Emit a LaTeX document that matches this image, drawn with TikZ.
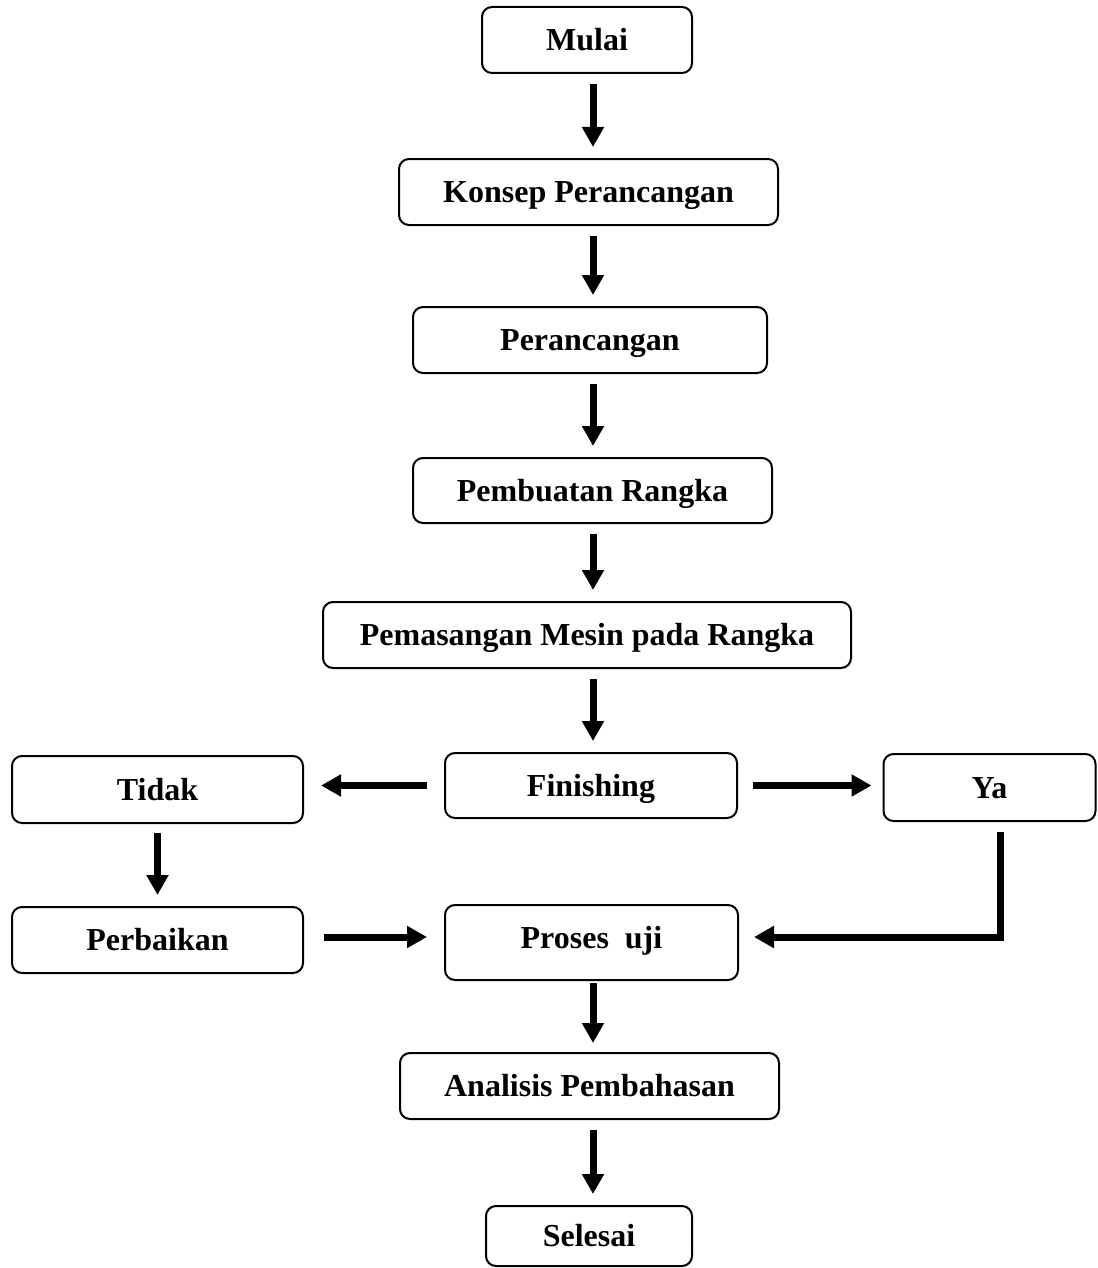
\documentclass[tikz,border=0pt]{standalone}
\usepackage{fontspec}
\setmainfont{Liberation Serif}
\usetikzlibrary{arrows.meta,calc}
\definecolor{garis}{RGB}{0,0,0}

\tikzset{
  kotak/.style={draw=garis, line width=1pt, rounded corners=5pt, inner sep=0pt,
    minimum height=33pt, text height=11pt, text depth=0.5pt,
    font=\fontsize{16}{19}\selectfont\bfseries},
  panah/.style={draw=garis, line width=3.5pt, -{Triangle[width=10.5pt,length=10pt]},
    shorten <=5pt, shorten >=5.5pt}
}

\begin{document}
\begin{tikzpicture}[x=0.5pt, y=-0.5pt]

    \useasboundingbox (0,0) rectangle (1097,1268);

    % 1. Kotak alur utama (tengah)
    \node (mulai) at (587, 40) [kotak, minimum width=105pt] {Mulai};
    \node (konsep) at (588.5, 192) [kotak, minimum width=189.5pt] {Konsep Perancangan};
    \node (rancang) at (590, 340) [kotak, minimum width=177pt] {Perancangan};
    \node (rangka) at (592.5, 490.5) [kotak, minimum width=179.5pt, minimum height=32.5pt] {Pembuatan Rangka};
    \node (pasang) at (587, 635) [kotak, minimum width=264pt] {Pemasangan Mesin pada Rangka};
    \node (finishing) at (591, 785.5) [kotak, minimum width=146pt, minimum height=32.5pt] {Finishing};
    \node (proses) at (591.5, 942.5) [kotak, minimum width=146.5pt, minimum height=37.5pt, text depth=5.5pt] {Proses\ \ uji};
    \node (analisis) at (589.5, 1086) [kotak, minimum width=189.5pt] {Analisis Pembahasan};
    \node (selesai) at (589, 1236) [kotak, minimum width=103pt, minimum height=30pt] {Selesai};

    % 2. Cabang kiri dan kanan
    \node (tidak) at (157.5, 789.5) [kotak, minimum width=145.5pt, minimum height=33.5pt] {Tidak};
    \node (perbaikan) at (157.5, 940) [kotak, minimum width=145.5pt] {Perbaikan};
    \node (ya) at (989.5, 787.5) [kotak, minimum width=106pt, minimum height=33.5pt] {Ya};

    % 3. Titik bantu untuk panah
    \coordinate (poros) at (593, 0);
    \coordinate (jalur) at (0, 937);
    \coordinate (belok) at (1000, 937);

    % 4. Panah alur utama
    \draw[panah] (mulai.south -| poros) -- (konsep.north -| poros);
    \draw[panah] (konsep.south -| poros) -- (rancang.north -| poros);
    \draw[panah] (rancang.south -| poros) -- (rangka.north -| poros);
    \draw[panah] (rangka.south -| poros) -- (pasang.north -| poros);
    \draw[panah] (pasang.south -| poros) -- (finishing.north -| poros);
    \draw[panah, shorten <=1pt, shorten >=4.5pt] (proses.south -| poros) -- (analisis.north -| poros);
    \draw[panah] (analisis.south -| poros) -- (selesai.north -| poros);

    % 5. Panah cabang
    \draw[panah, shorten <=8.5pt, shorten >=8.5pt] (finishing.west) -- (tidak.east |- finishing.west);
    \draw[panah, shorten <=7.5pt] (finishing.east) -- (ya.west |- finishing.east);
    \draw[panah, shorten <=4.5pt] (tidak.south) -- (perbaikan.north);
    \draw[panah, shorten <=10pt, shorten >=8.5pt] (perbaikan.east |- jalur) -- (proses.west |- jalur);
    \draw[panah, shorten >=7.5pt] (ya.south -| belok) -- (belok) -- (proses.east |- belok);

\end{tikzpicture}
\end{document}
